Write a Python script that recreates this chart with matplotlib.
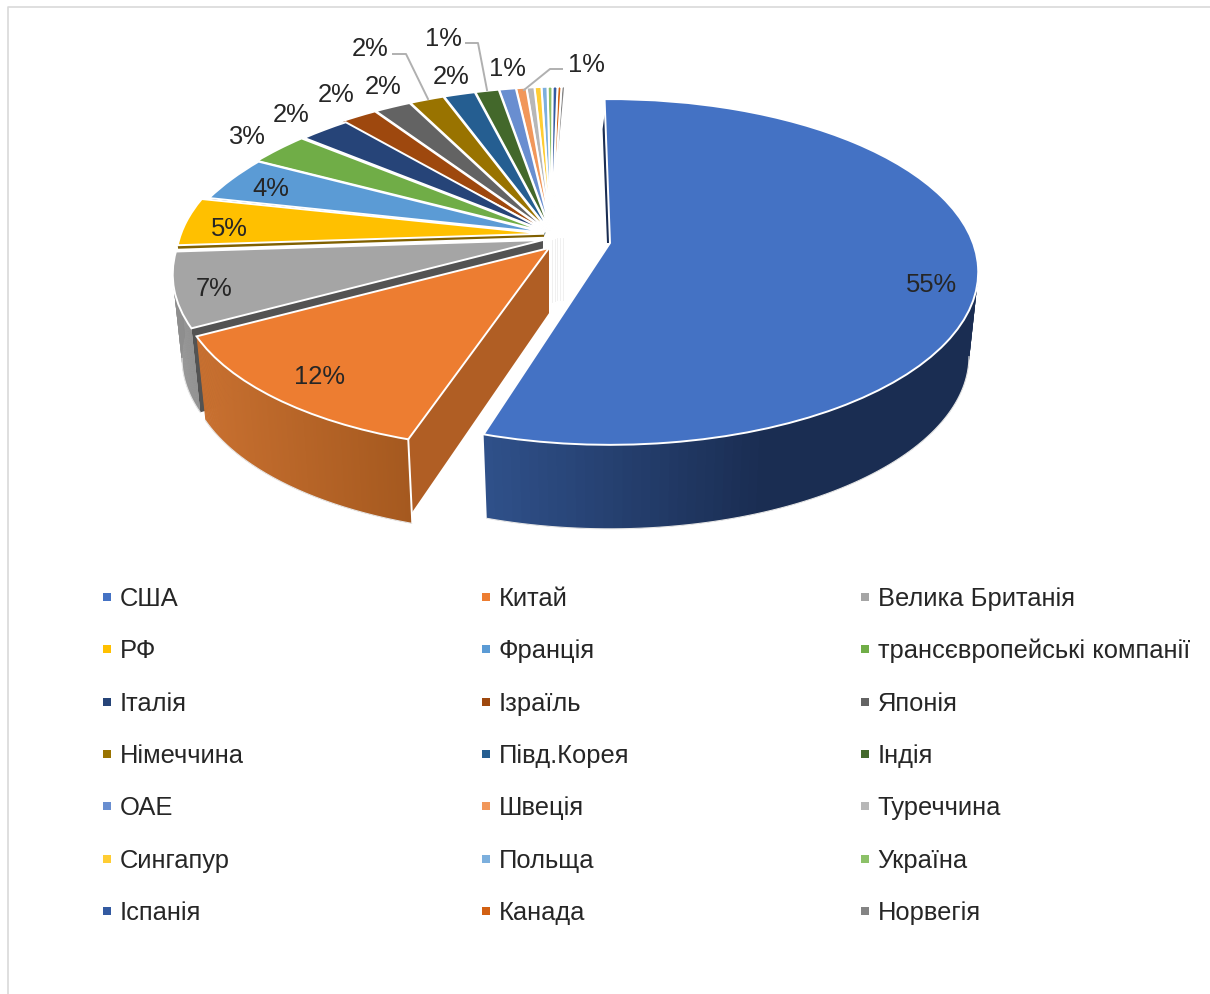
#!/usr/bin/env python3
"""Exploded 3D-look pie of market shares by country, with a 3-column legend."""
import numpy as np
import matplotlib
matplotlib.use("Agg")
import matplotlib.pyplot as plt
from matplotlib.collections import PolyCollection
from matplotlib.colors import to_rgb
from matplotlib.path import Path
from matplotlib.transforms import Transform

plt.rcParams["font.family"] = ["Liberation Sans", "DejaVu Sans"]

COUNTRIES = ["США", "Китай", "Велика Британія", "РФ", "Франція",
             "трансєвропейські компанії", "Італія", "Ізраїль", "Японія",
             "Німеччина", "Півд.Корея", "Індія", "ОАЕ", "Швеція", "Туреччина",
             "Сингапур", "Польща", "Україна", "Іспанія", "Канада", "Норвегія"]
SHARES = [55.0, 12.25, 6.95, 4.51, 4.1, 3.0, 2.49, 2.0, 1.85, 1.75, 1.6, 1.2,
          0.85, 0.52, 0.4, 0.35, 0.3, 0.25, 0.25, 0.2, 0.18]
COLORS = ["#4472c4", "#ed7d31", "#a5a5a5", "#ffc000", "#5b9bd5", "#70ad47",
          "#264478", "#9e480e", "#636363", "#997300", "#255e91", "#43682b",
          "#698ed0", "#f1975a", "#b7b7b7", "#ffcd33", "#7cafdd", "#8cc168",
          "#335aa1", "#d26012", "#848484"]

INK = "#262626"
LEADER = "#b0b0b0"
FS = 18.4

# pie projection, pixels
CX, CY = 552, 234
A, B, K = 363, 168, 0.1676
DEPTH = 84
BOTTOM_SCALE = 0.975
SHIFT = {0: (58, 9), 1: (-3, 14), 2: (-9, 6)}    # pulled-out slices
EXPLODE = 0.022                                  # the rest, radial
# perspective lean of the slices away from the centre
LEAN = {1: -0.075, 2: -0.065, 3: 0.0, 4: -0.2, 5: -0.17, 6: -0.19}
LEAN_REST = -0.13
# thickness of the cut face showing under a slice
FACE = {1: 74, 2: 84, 3: 3.5, 4: 3, 5: 2}

LABEL_POS = [(931, 283), (319, 376), (214, 287), (229, 228), (271, 188),
             (246, 136), (291, 114), (336, 93), (383, 86), (370, 47),
             (451, 75), (443, 37), (507, 67), (586, 63)]
LEADERS = {9: [(393, 54), (406, 54), (428, 99)],
           11: [(466, 43), (478, 43), (487, 90)],
           13: [(562, 69), (550, 69), (524, 90)]}

LEG_X = [107, 486, 865]
LEG_Y = [597, 649, 702, 754, 806, 859, 911]


def tilt(x, y, ox, oy, lean):
    w = 1 + K * y
    dy = -B * y / w
    return ox + A * x / w + lean * dy, oy + dy


class Tilt(Transform):
    input_dims = output_dims = 2

    def __init__(self, ox, oy, lean):
        super().__init__()
        self.ox, self.oy, self.lean = ox, oy, lean

    def transform_non_affine(self, xy):
        xy = np.asarray(xy, float)
        return np.column_stack(tilt(xy[:, 0], xy[:, 1], self.ox, self.oy,
                                    self.lean))

    def transform_path_non_affine(self, path):
        return Path(self.transform_non_affine(path.vertices), path.codes)


def blend(stops, t):
    pos = [s[0] for s in stops]
    rgb = np.array([to_rgb(s[1]) for s in stops])
    return [np.interp(t, pos, rgb[:, i]) for i in range(3)]


def draw_wall(ax, wedge, ox, oy, lean, stops, z):
    th = np.radians(np.linspace(wedge.theta1, wedge.theta2, 160))
    th = th[np.sin(th) <= 0]
    px, py = tilt(np.cos(th), np.sin(th), ox, oy, lean)
    qx = ox + (px - ox) * BOTTOM_SCALE
    qy = py + DEPTH
    polys, cols = [], []
    for i in range(len(th) - 1):
        j = min(i + 2, len(th) - 1)    # overlap the next strip to hide seams
        polys.append([(px[i], py[i]), (px[j], py[j]),
                      (qx[j], qy[j]), (qx[i], qy[i])])
        cols.append(blend(stops, px[i]))
    ax.add_collection(PolyCollection(polys, facecolors=cols, edgecolors="none",
                                     zorder=z))
    k1, k2 = np.argmin(qx), np.argmax(qx)
    ax.plot(qx[k1:k2 + 1], qy[k1:k2 + 1], color="#e6e6e6", lw=0.8, zorder=z)


def main():
    fig = plt.figure(figsize=(12.10, 9.94), dpi=100)
    ax = fig.add_axes([0, 0, 1, 1])
    wedges, _ = ax.pie(SHARES, startangle=91, counterclock=False,
                       colors=COLORS,
                       wedgeprops=dict(edgecolor="white", linewidth=1.4))
    ax.set_aspect("auto")
    ax.set_xlim(0, 1210)
    ax.set_ylim(994, 0)
    ax.axis("off")

    total = sum(SHARES)
    n = len(wedges)
    apex = []
    for i, w in enumerate(wedges):
        if i in SHIFT:
            apex.append((CX + SHIFT[i][0], CY + SHIFT[i][1]))
        else:
            mid = np.radians((w.theta1 + w.theta2) / 2)
            apex.append((CX + A * EXPLODE * np.cos(mid),
                         CY - B * EXPLODE * np.sin(mid)))

    # faint cut faces of the tiny slices under the hub
    for i in range(6, n, 3):
        x = CX + (i - 6) * 0.9
        ax.plot([x, x], [apex[i][1] + 8, apex[i][1] + 70],
                color="#eeeeee", lw=0.6, zorder=1)

    # back to front: the last slices first, USA on top
    for i in reversed(range(n)):
        w = wedges[i]
        ox, oy = apex[i]
        lean = LEAN.get(i, LEAN_REST) if i else 0.0
        z = 2 + (n - i) * 2

        th = np.radians(w.theta2)
        px, py = tilt(np.cos(th), np.sin(th), ox, oy, lean)

        if i in FACE:
            d = FACE[i]
            s = 1 - (1 - BOTTOM_SCALE) * d / DEPTH
            c = "#b05e24" if i == 1 else np.array(to_rgb(COLORS[i])) * 0.5
            ax.fill([ox, px, ox + (px - ox) * s, ox],
                    [oy, py, py + d * (DEPTH / 84), oy + d * 0.88],
                    color=c, lw=0, zorder=z)

        if i == 0:
            draw_wall(ax, w, ox, oy, lean,
                      [(484, "#2f5089"), (760, "#1a2d52"), (980, "#1a2d52")], z)
            # sliver of the inner face left of the first edge
            ax.fill([px, px - 2, ox - 3, ox], [py + 15, py + 30, oy, oy],
                    color="#1a2d52", lw=0, zorder=z)
        elif i == 1:
            draw_wall(ax, w, ox, oy, lean,
                      [(198, "#c87030"), (407, "#a5591f")], z)
            ax.plot([px, px + 4], [py, py + DEPTH - 1], color="white", lw=1.4,
                    zorder=z + 1)
        elif i == 2:
            draw_wall(ax, w, ox, oy, lean,
                      [(170, "#8f8f8f"), (210, "#8a8a8a")], z)

        w.set_transform(Tilt(ox, oy, lean) + ax.transData)
        w.set_zorder(z + 1)

    for i, (x, y) in enumerate(LABEL_POS):
        ax.text(x, y + 1.5, f"{SHARES[i] / total * 100:.0f}%", fontsize=FS,
                color=INK, ha="center", va="center", zorder=100)
    for pts in LEADERS.values():
        ax.plot(*zip(*pts), color=LEADER, lw=1.4, zorder=99)

    # legend, filled row by row
    for i, name in enumerate(COUNTRIES):
        x = LEG_X[i % 3]
        y = LEG_Y[i // 3]
        ax.scatter([x], [y], marker="s", s=26, color=COLORS[i], lw=0, zorder=5)
        ax.text(x + 12.5, y + 9, name, fontsize=FS, color=INK, ha="left",
                va="baseline")

    # chart frame, cut by the picture edge
    ax.plot([7.5, 7.5, 1210], [994, 6.5, 6.5], color="#d9d9d9", lw=1.2, zorder=0)

    fig.savefig("out.png", dpi=100, facecolor="white")


if __name__ == "__main__":
    main()
